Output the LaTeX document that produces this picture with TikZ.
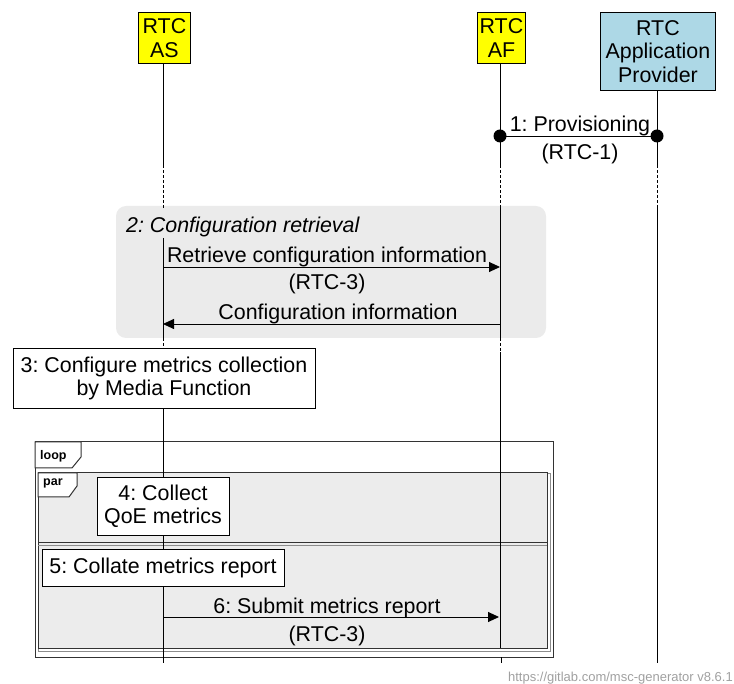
\documentclass[tikz,border=0pt]{standalone}
\usepackage{fontspec}
\setmainfont{Liberation Sans}
\usetikzlibrary{arrows.meta}
\definecolor{entyellow}{HTML}{FFFF00}
\definecolor{entblue}{HTML}{ADD8E6}
\definecolor{grpgrey}{HTML}{EBEBEB}
\definecolor{pargrey}{HTML}{ECECEC}
\definecolor{wmgrey}{HTML}{A0A0A0}
\frenchspacing
\tikzset{
  txt/.style={font=\fontsize{21.4}{23.5}\selectfont, inner sep=0pt, align=center},
  entity/.style={draw, line width=0.9pt, txt, anchor=north west},
  action/.style={draw, line width=0.9pt, fill=white, txt},
  life/.style={line width=0.9pt},
  lifedash/.style={line width=0.9pt, dash pattern=on 3pt off 2pt},
  msg/.style={line width=0.9pt, -{Triangle[length=11pt,width=10pt]}},
  tagtxt/.style={font=\fontsize{12.5}{14}\selectfont\bfseries, inner sep=0pt, anchor=west},
  frame/.style={line width=1pt, draw=black!80},
}
\begin{document}
\begin{tikzpicture}[x=1pt,y=-1pt]
\useasboundingbox (0,0) rectangle (734,684);

% ---------- group background: configuration retrieval ----------
\fill[grpgrey, rounded corners=10pt] (116,206) rectangle (546,338);
\node[txt, anchor=west, font=\fontsize{21.4}{23.5}\selectfont\itshape] (grp) at (126,227) {2: Configuration retrieval};

% ---------- loop and par frames ----------
\draw[frame] (35,442) rectangle (553,657);
\draw[line width=0.5pt, draw=black!45] (38,473) rectangle (550,651);
\fill[pargrey] (38,473) rectangle (547,648);
\draw[frame] (38,473) rectangle (547,648);
\draw[frame] (38,542) -- (547,542);
\draw[line width=0.5pt, draw=black!45] (38,545) -- (547,545);
% tags
\draw[frame, fill=white] (35,442) -- (81,442) -- (81,457) -- (72,468) -- (35,468) -- cycle;
\node[tagtxt] (looptag) at (40,456) {loop};
\draw[frame, fill=white] (38,473) -- (77,473) -- (77,486) -- (69,497) -- (38,497) -- cycle;
\node[tagtxt] (partag) at (43,483) {par};

% ---------- lifelines ----------
% RTC AS
\coordinate (as0) at (163,63);
\coordinate (as1) at (163,165);
\coordinate (as2) at (163,208);
\coordinate (as3) at (163,238);
\coordinate (as4) at (163,338);
\coordinate (as5) at (163,348);
\coordinate (as6) at (163,663);
\draw[life] (as0) -- (as1);
\draw[lifedash] (as1) -- (as2);
\draw[life] (as3) -- (as4);
\draw[lifedash] (as4) -- (as5);
\draw[life] (as5) -- (as6);
% RTC AF
\coordinate (af0) at (500,63);
\coordinate (af1) at (500,165);
\coordinate (af2) at (500,206);
\coordinate (af3) at (500,338);
\coordinate (af4) at (500,352);
\coordinate (af5) at (500,648);
\coordinate (af6) at (501,657);
\coordinate (af7) at (501,663);
\draw[life] (af0) -- (af1);
\draw[lifedash] (af1) -- (af2);
\draw[life] (af2) -- (af3);
\draw[lifedash] (af3) -- (af4);
\draw[life] (af4) -- (af5);
\draw[life] (af6) -- (af7);
% RTC Application Provider
\coordinate (ap0) at (657,90);
\coordinate (ap1) at (657,165);
\coordinate (ap2) at (657,206);
\coordinate (ap3) at (657,663);
\draw[life] (ap0) -- (ap1);
\draw[lifedash] (ap1) -- (ap2);
\draw[life] (ap2) -- (ap3);

% ---------- entity heads ----------
\node[entity, fill=entyellow, minimum width=52pt, minimum height=51pt] (as) at (138,12) {RTC\\AS};
\node[entity, fill=entyellow, minimum width=48pt, minimum height=51pt] (af) at (477,12) {RTC\\AF};
\node[entity, fill=entblue, minimum width=115pt, minimum height=78pt] (ap) at (600,12) {RTC\\Application\\Provider};

% ---------- 1: provisioning ----------
\coordinate (p1) at (500,136);
\coordinate (p2) at (657,136);
\draw[line width=0.9pt] (p1) -- (p2);
\fill (p1) circle (6.5pt);
\fill (p2) circle (6.5pt);
\node[txt] (m1a) at (580,126) {1: Provisioning};
\node[txt] (m1b) at (580,154) {(RTC-1)};

% ---------- 2: configuration retrieval ----------
\coordinate (r1) at (163,267);
\coordinate (r2) at (500,267);
\draw[msg] (r1) -- (r2);
\node[txt] (m2a) at (327,257) {Retrieve configuration information};
\node[txt] (m2b) at (327,284) {(RTC-3)};
\coordinate (c1) at (500,324);
\coordinate (c2) at (163,324);
\draw[msg] (c1) -- (c2);
\node[txt] (m3a) at (338,314) {Configuration information};

% ---------- 3: configure metrics ----------
\node[action, minimum width=302pt, minimum height=60pt] (cfg) at (164,378.5) {3: Configure metrics collection\\by Media Function};

% ---------- 4 / 5 ----------
\node[action, minimum width=132pt, minimum height=58pt] (col) at (163,506.5) {4: Collect\\QoE metrics};
\node[action, minimum width=242pt, minimum height=37pt] (rep) at (163,568) {5: Collate metrics report};

% ---------- 6: submit ----------
\coordinate (s1) at (163,617);
\coordinate (s2) at (499,617);
\draw[msg] (s1) -- (s2);
\node[txt] (m6a) at (327,608) {6: Submit metrics report};
\node[txt] (m6b) at (327,636) {(RTC-3)};

% ---------- generator mark ----------
\node[font=\fontsize{13}{15}\selectfont, text=wmgrey, inner sep=0pt, anchor=east] (mark) at (733,678) {https://gitlab.com/msc-generator v8.6.1};
\end{tikzpicture}
\end{document}
